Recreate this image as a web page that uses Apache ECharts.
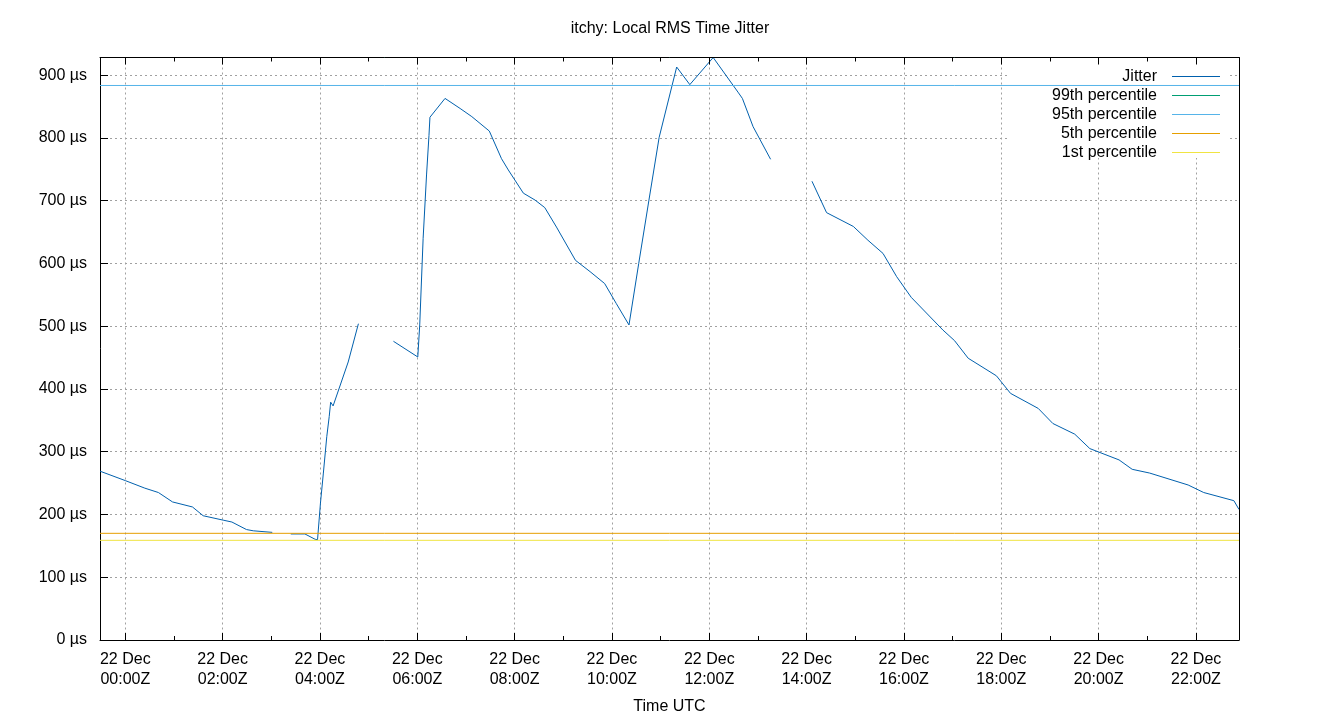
<!DOCTYPE html>
<html>
<head>
<meta charset="utf-8">
<script src="https://cdn.jsdelivr.net/npm/echarts@6/dist/echarts.min.js"></script>
<style>html,body{margin:0;padding:0;background:#fff}#chart{width:1340px;height:720px}</style>
</head>
<body>
<div id="chart"></div>
<script>
// ---------------- data ----------------
const chartTitle = 'itchy: Local RMS Time Jitter';
const xAxisTitle = 'Time UTC';
const seriesNames = ['Jitter', '99th percentile', '95th percentile', '5th percentile', '1st percentile'];

// hours relative to 22 Dec 00:00Z
const times = [-0.52, 0.00, 0.40, 0.68, 0.97, 1.38, 1.60, 2.01, 2.19, 2.49, 2.63, 3.02, 3.20,
  3.40, 3.69, 3.90, 3.95, 4.01, 4.07, 4.14, 4.19, 4.22, 4.27, 4.58, 4.79, 5.10,
  5.51, 6.01, 6.05, 6.12, 6.19, 6.24, 6.26, 6.57, 6.88, 7.12, 7.48, 7.73, 7.87, 8.18,
  8.42, 8.62, 8.86, 9.25, 9.55, 9.85, 10.09, 10.35, 10.55, 10.76, 10.97, 11.33, 11.60,
  12.08, 12.59, 12.68, 12.90, 13.26, 13.70,
  14.11, 14.41, 14.96, 15.26, 15.57, 15.85, 16.15, 16.80, 17.04, 17.32, 17.90, 18.19,
  18.76, 19.06, 19.51, 19.82, 20.42, 20.69, 21.05, 21.84, 22.16, 22.78, 22.885];
// jitter in microseconds (null = gap in data)
const jitter = [269, 254, 242, 235, 220, 212, 198, 191, 188, 176, 174, 171.5, null,
  169, 169, 160.5, 159.8, 218, 266, 324, 356, 379, 373, 443, 504, null,
  476, 451, 502, 640, 741, 804, 833, 863, 847, 834, 811, 767, 749, 712,
  701, 689, 658, 605, 587, 568, 536, 502, 600, 701, 801, 913, 885,
  928.2, 873, 863, 818, 766, null,
  731, 681, 659, 637, 616, 579, 546, 494, 477, 449, 421, 393,
  369, 345, 328, 305, 287, 272, 266, 247, 235, 222, 208];
// 99th, 95th, 5th, 1st percentile (µs)
const percentileValues = [928.2, 883.6, 170.0, 158.8];

const xMajorTickHours = [0, 2, 4, 6, 8, 10, 12, 14, 16, 18, 20, 22];
const xMajorTickLabels = ['22 Dec\n00:00Z', '22 Dec\n02:00Z', '22 Dec\n04:00Z', '22 Dec\n06:00Z',
  '22 Dec\n08:00Z', '22 Dec\n10:00Z', '22 Dec\n12:00Z', '22 Dec\n14:00Z', '22 Dec\n16:00Z',
  '22 Dec\n18:00Z', '22 Dec\n20:00Z', '22 Dec\n22:00Z'];
const xMinorTickHours = [1, 3, 5, 7, 9, 11, 13, 15, 17, 19, 21];
const yUnit = ' µs';

// ---------------- chart ----------------
const FONT = "'Liberation Sans', Arial, sans-serif";
const colors = ['#0060ad', '#009e73', '#56b4e9', '#e69f00', '#f0e442'];
const xMin = times[0], xMax = times[times.length - 1];
const yMax = Math.max(...jitter.filter(v => v !== null));
const gridDash = { color: '#a0a0a0', width: 1, type: [2, 3] };
const black = { color: '#000', width: 1 };

function xAxisDef(pos, ticks, len, main, z) {
  return {
    type: 'value', position: pos, min: xMin, max: xMax, z: z,
    axisLine: { show: main, onZero: false, lineStyle: black },
    axisTick: { show: true, inside: true, length: len, customValues: ticks, lineStyle: black },
    axisLabel: { show: false },
    splitLine: { show: false }
  };
}

const xAxes = [
  Object.assign(xAxisDef('bottom', xMajorTickHours, 7, true, 0), {
    axisLabel: {
      show: true, customValues: xMajorTickHours, margin: 10,
      fontSize: 16, lineHeight: 20, color: '#000', fontFamily: FONT,
      formatter: v => xMajorTickLabels[xMajorTickHours.indexOf(v)] || ''
    },
    splitLine: { show: true, lineStyle: gridDash },
    name: xAxisTitle, nameLocation: 'middle', nameGap: 59,
    nameTextStyle: { fontSize: 16, color: '#000', fontFamily: FONT }
  }),
  xAxisDef('top', xMajorTickHours, 7, true, 10),
  xAxisDef('bottom', xMinorTickHours, 4, false, 0),
  xAxisDef('top', xMinorTickHours, 4, false, 10)
];

const series = [{
  name: seriesNames[0], type: 'line', xAxisIndex: 0, yAxisIndex: 0,
  data: times.map((t, i) => [t, jitter[i] === null ? '-' : jitter[i]]),
  symbol: 'none', showSymbol: false, connectNulls: false,
  lineStyle: { width: 1, color: colors[0] }, itemStyle: { color: colors[0] }, z: 2
}];
percentileValues.forEach((p, k) => {
  series.push({
    name: seriesNames[k + 1], type: 'line', xAxisIndex: 0, yAxisIndex: 0,
    data: [[xMin, p], [xMax, p]],
    symbol: 'none', showSymbol: false,
    lineStyle: { width: 1, color: colors[k + 1] }, itemStyle: { color: colors[k + 1] }, z: 3
  });
});

const chart = echarts.init(document.getElementById('chart'), null, { renderer: 'canvas' });
chart.setOption({
  animation: false,
  backgroundColor: '#fff',
  color: colors,
  title: {
    text: chartTitle, left: 'center', top: 16,
    textStyle: { fontSize: 16, fontWeight: 'normal', color: '#000', fontFamily: FONT }
  },
  grid: { left: 100, right: 101, top: 57.5, bottom: 80, containLabel: false },
  legend: {
    orient: 'vertical', right: 115, top: 63.5, align: 'right',
    itemWidth: 48, itemHeight: 1, itemGap: 3, icon: 'rect',
    data: seriesNames, selectedMode: false,
    itemStyle: { borderWidth: 0 },
    textStyle: { fontSize: 16, color: '#000', fontFamily: FONT, padding: [0, 10, 0, 0] }
  },
  graphic: [{
    type: 'rect', left: 1010, top: 58, z: 1, silent: true,
    shape: { width: 219, height: 100 }, style: { fill: '#fff' }
  }],
  xAxis: xAxes,
  yAxis: [{
    type: 'value', position: 'left', min: 0, max: yMax, interval: 100,
    axisLine: { show: true, onZero: false, lineStyle: black },
    axisTick: { show: true, inside: true, length: 8, lineStyle: black },
    axisLabel: {
      show: true, margin: 13, fontSize: 16, color: '#000', fontFamily: FONT,
      showMaxLabel: false, formatter: v => v + yUnit
    },
    splitLine: { show: true, lineStyle: gridDash }
  }, {
    type: 'value', position: 'right', min: 0, max: yMax, z: 10,
    axisLine: { show: true, onZero: false, lineStyle: black },
    axisTick: { show: false }, axisLabel: { show: false }, splitLine: { show: false }
  }],
  series: series
});
</script>
</body>
</html>
